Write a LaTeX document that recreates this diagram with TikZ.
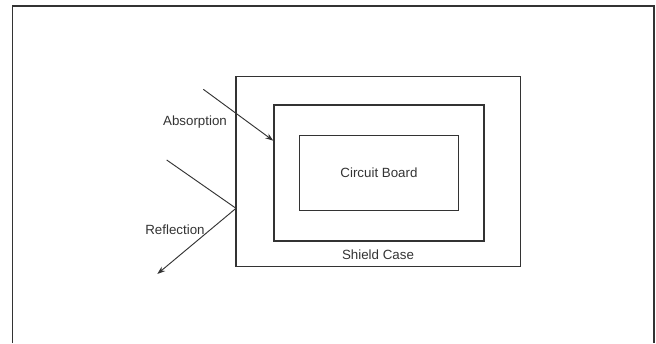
\documentclass[tikz,border=0pt]{standalone}
\usepackage{fontspec}
\setmainfont{Liberation Sans}
\usetikzlibrary{arrows.meta}
\definecolor{ink}{HTML}{333333}
\tikzset{
  box/.style={draw=ink, line width=0.8pt, inner sep=0pt, outer sep=0pt},
  lbl/.style={text=ink, font=\fontsize{10}{12}\selectfont, inner sep=0pt},
  ray/.style={draw=ink, line width=0.7pt},
  arr/.style={ray, -{Stealth[length=6pt,width=4.2pt]}}
}
\begin{document}
\begin{tikzpicture}[x=0.75pt,y=-0.75pt]
\useasboundingbox (0,0) rectangle (656,343);
% outer frame (open at bottom)
\coordinate (fbl) at (12.7,343);
\coordinate (ftl) at (12.7,6);
\coordinate (ftr) at (654,6);
\coordinate (fbr) at (654,343);
\draw[draw=ink, line width=1pt] (fbl) -- (ftl) -- (ftr) -- (fbr);
% shield case and boxes
\node[box, minimum width=213.5pt, minimum height=142.5pt] (case) at (378.35,171.7) {};
\node[box, minimum width=157.5pt, minimum height=102pt] (inner) at (379,173) {};
\node[box, minimum width=119.6pt, minimum height=56pt, lbl] (board) at (379,173) {Circuit Board};
\node[lbl] (caselbl) at (378,255) {Shield Case};
% absorption
\coordinate (abs0) at (203.3,89.3);
\coordinate (abs1) at (273.3,140.7);
\draw[arr] (abs0) -- (abs1);
\node[lbl] (abslbl) at (195,121.7) {Absorption};
% reflection
\coordinate (ref0) at (166.7,160);
\coordinate (refhit) at (236,208.3);
\coordinate (ref1) at (157.3,274);
\draw[ray] (ref0) -- (refhit);
\draw[arr] (refhit) -- (ref1);
\node[lbl] (reflbl) at (175,229.3) {Reflection};
\end{tikzpicture}
\end{document}
